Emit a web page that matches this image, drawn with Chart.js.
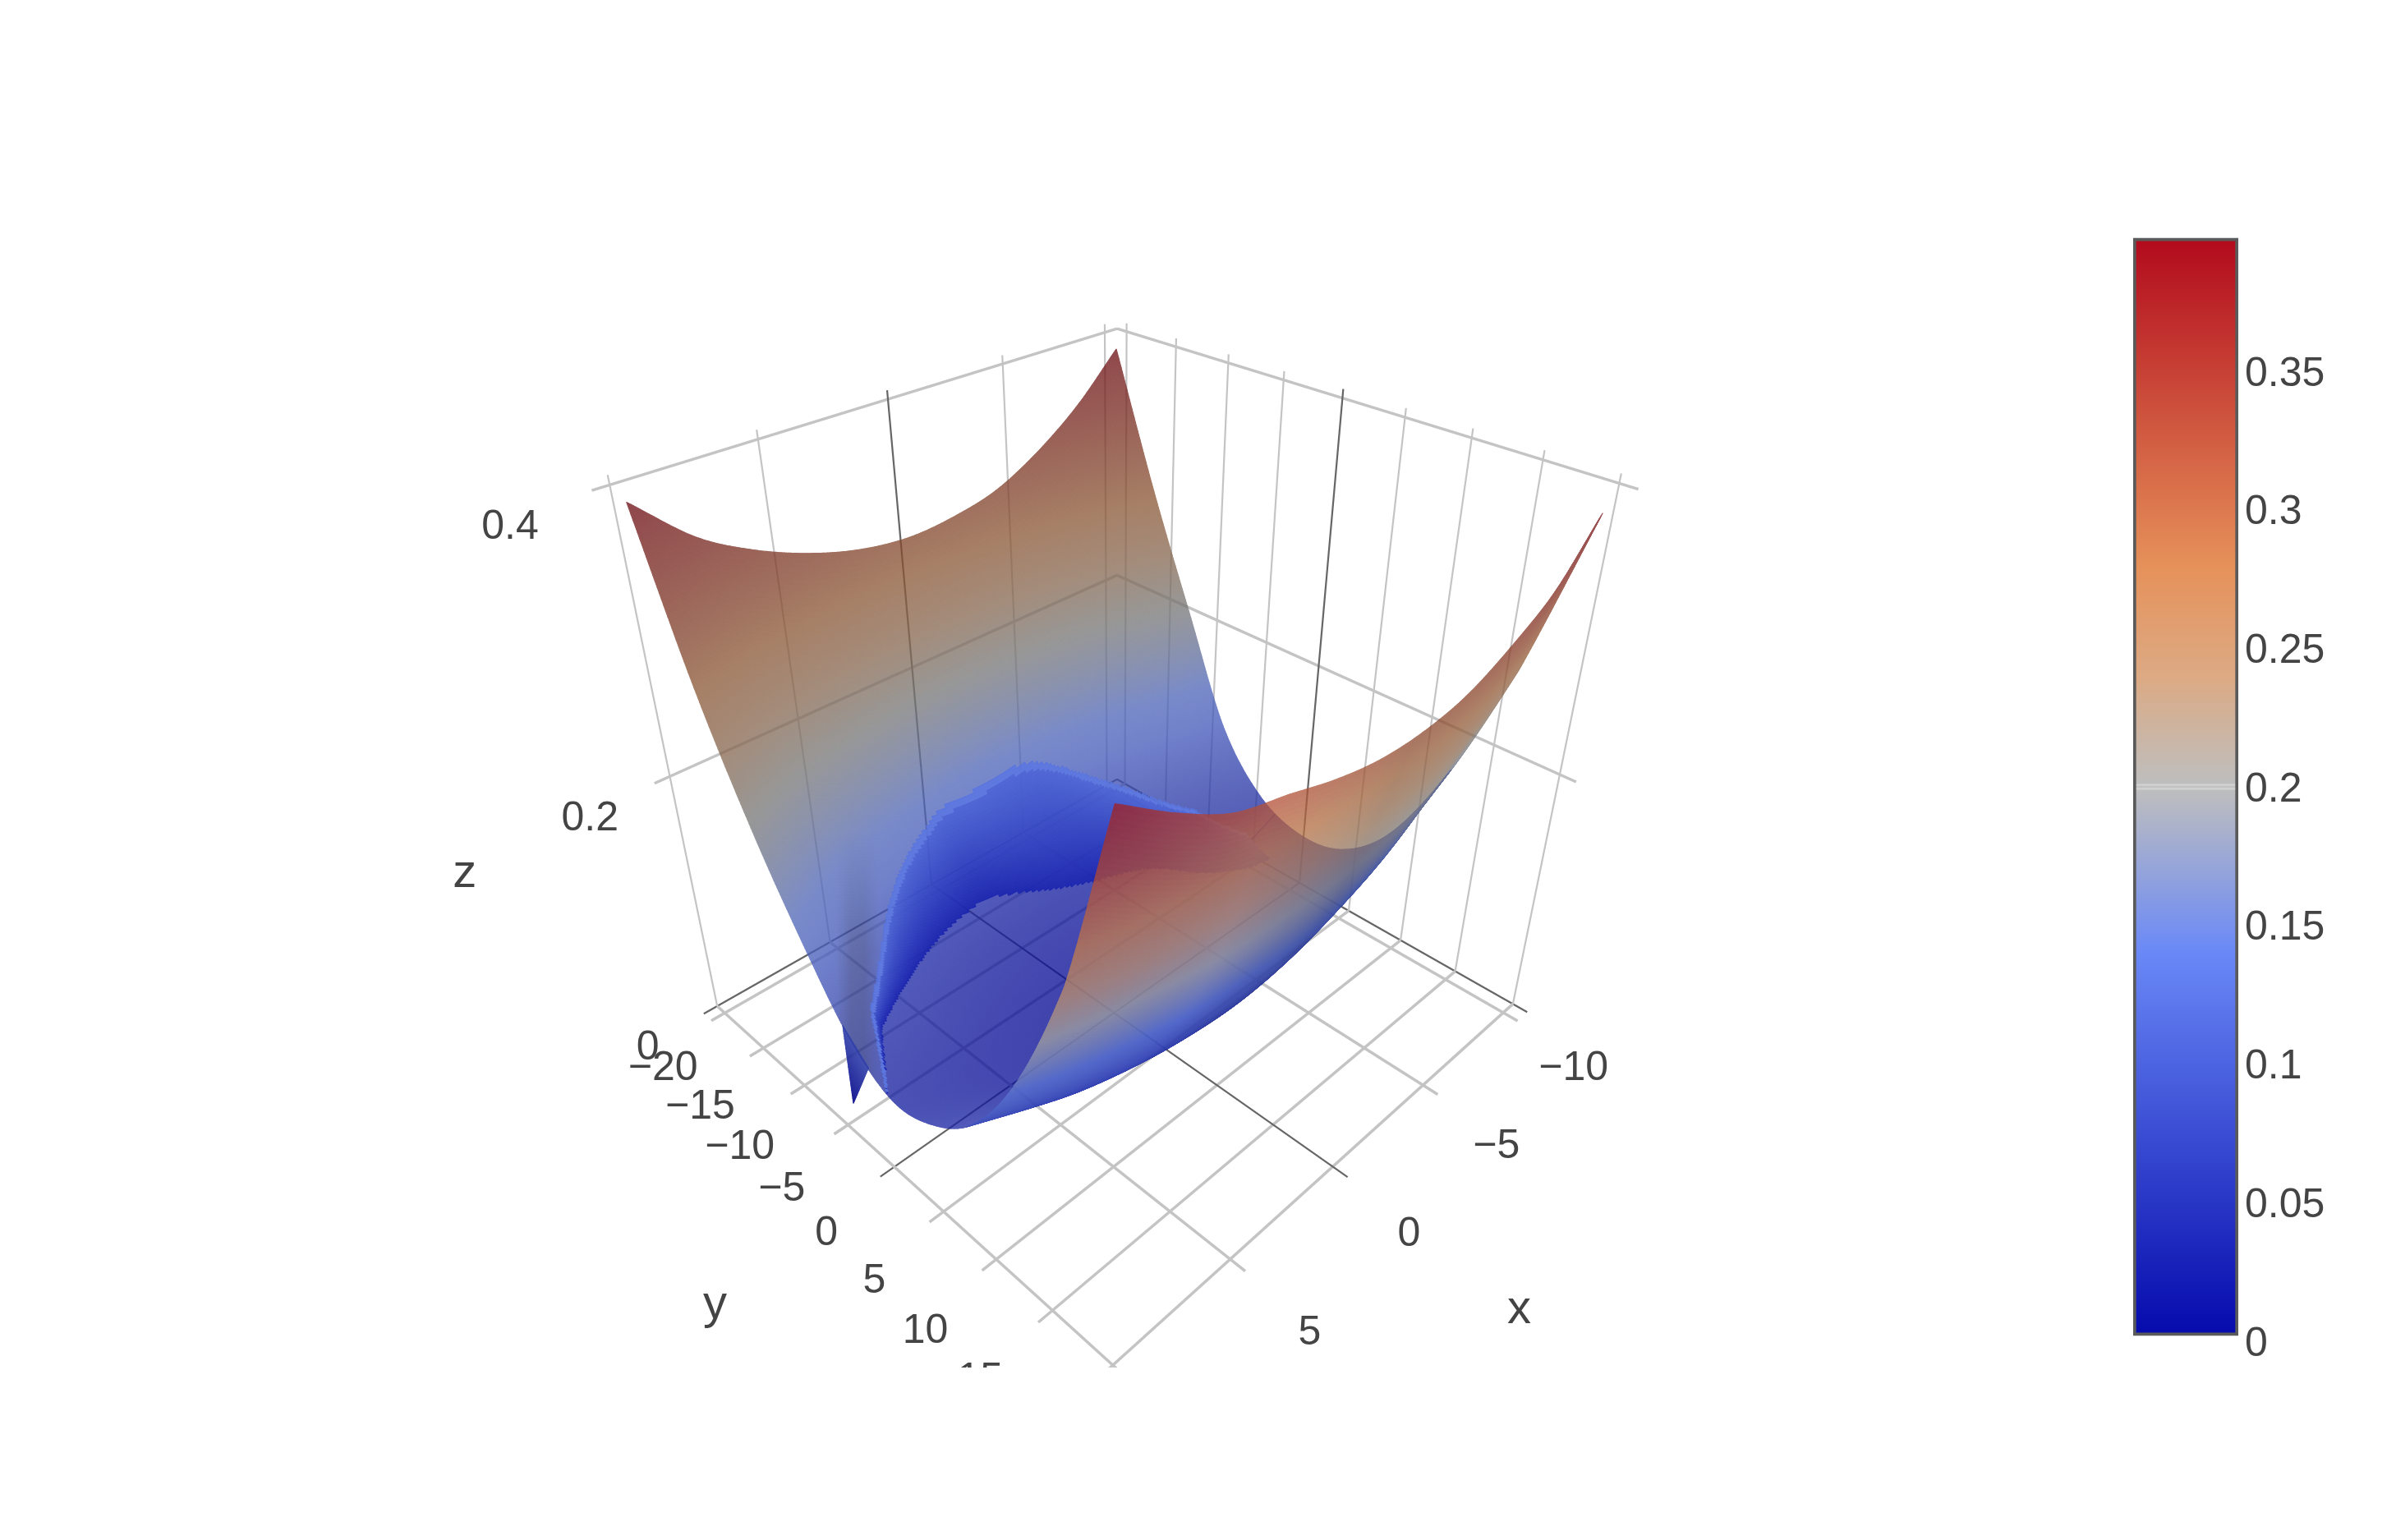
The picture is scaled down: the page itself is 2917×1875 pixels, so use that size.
<!DOCTYPE html>
<html>
<head>
<meta charset="utf-8">
<title>Surface</title>
<script src="https://cdn.jsdelivr.net/npm/chart.js@4/dist/chart.umd.min.js"></script>
<style>
  html, body { margin: 0; background: #fff; }
  #scene { position: absolute; left: 0; top: 0; }
  #bar { position: absolute; left: 2590px; top: 240px; }
</style>
</head>
<body>
<canvas id="scene" width="2917" height="1665"></canvas>
<canvas id="bar" width="327" height="1460"></canvas>
<script>
// Surface values: rows follow yGrid, columns follow xGrid.
const xGrid = [-10.6, -8.6, -6.6, -4.5, -2.5, -0.5, 1.5, 3.5, 5.6, 7.6, 9.6];
const yGrid = [-21, -16.9, -12.8, -8.7, -4.6, -0.5, 3.6, 7.7, 11.8, 15.9, 19.4];
const zGrid = [
  [0.385, 0.353, 0.329, 0.311, 0.303, 0.300, 0.304, 0.314, 0.330, 0.352, 0.387],
  [0.285, 0.253, 0.229, 0.211, 0.200, 0.195, 0.198, 0.207, 0.223, 0.245, 0.280],
  [0.195, 0.170, 0.146, 0.128, 0.117, 0.112, 0.115, 0.124, 0.140, 0.162, 0.197],
  [0.108, 0.092, 0.078, 0.065, 0.057, 0.052, 0.055, 0.064, 0.080, 0.100, 0.130],
  [0.063, 0.050, 0.036, 0.027, 0.021, 0.016, 0.019, 0.028, 0.042, 0.060, 0.075],
  [0.047, 0.030, 0.018, 0.011, 0.006, 0.003, 0.005, 0.012, 0.022, 0.035, 0.050],
  [0.053, 0.038, 0.026, 0.019, 0.014, 0.011, 0.013, 0.020, 0.030, 0.046, 0.060],
  [0.088, 0.070, 0.056, 0.046, 0.040, 0.037, 0.040, 0.047, 0.058, 0.074, 0.092],
  [0.160, 0.140, 0.120, 0.106, 0.096, 0.092, 0.095, 0.102, 0.115, 0.132, 0.155],
  [0.262, 0.238, 0.214, 0.196, 0.185, 0.180, 0.183, 0.190, 0.205, 0.225, 0.250],
  [0.380, 0.345, 0.325, 0.310, 0.304, 0.304, 0.310, 0.320, 0.330, 0.350, 0.375],
];
// The narrow sliver that drops to the floor at the x=10 side
const spikeX = [9.55, 9.55, 9.3];
const spikeY = [-5.4, -3, -6.3];
const spikeZ = [0.08, 0.06, 0.0];
// Saturated strip on the inner wall: upper and lower rim as y for each x
const bandX = [-9.2, -7.9, -5.2, -2.4, 0.7, 2.6, 5.3, 8.3, 9.6];
const bandTop = [-3.5, -7, -10.8, -13.6, -13.8, -13.3, -10.9, -5.8, -1];
const bandLow = [-1, -2.5, -6.2, -8, -9.6, -9.6, -8, -4.8, -1];
// Colour values across that strip, from upper rim to lower rim
const bandShades = [0.115, 0.095, 0.075, 0.055, 0.035];

const xTicks = [-10, -5, 0, 5, 10];
const yTicks = [-20, -15, -10, -5, 0, 5, 10, 15, 20];
const zTicks = [0, 0.2, 0.4];
const zLabelShift = [46, 53, 66];
const yLabelDrop = [37, 39, 41, 42.5, 44.5, 46, 48, 46];
const barTicks = [0, 0.05, 0.1, 0.15, 0.2, 0.25, 0.3, 0.35];
const barRange = [0.002, 0.398];

const scale = [
  [0, [5, 10, 172]], [0.35, [106, 137, 247]], [0.5, [190, 190, 190]],
  [0.6, [220, 170, 132]], [0.7, [230, 145, 90]], [1, [178, 10, 28]],
];
const Z_MIN = 0.002, Z_MAX = 0.398;

// Axis box of the scene
const X_RANGE = [-10.64, 9.96], Y_RANGE = [-21, 20], Z_TOP = 0.4;
const FONT = '"Liberation Sans", Arial, sans-serif';
const TEXT = "#444";

// Perspective camera, fitted on the corners of the axis box (1568 wide picture units)
const S = 2917 / 1568;
const CAM = [
  [-348.8, 75.2, -126, 731],
  [25.2, 25.07, -332, 510],
  [-0.1868, -0.1857, -0.1724, 1],
];

function project(x, y, z) {
  const p = [(x - X_RANGE[0]) / (X_RANGE[1] - X_RANGE[0]), (y - Y_RANGE[0]) / (Y_RANGE[1] - Y_RANGE[0]), z / Z_TOP, 1];
  const row = (r) => r[0] * p[0] + r[1] * p[1] + r[2] * p[2] + r[3];
  const w = row(CAM[2]);
  return { x: S * row(CAM[0]) / w, y: S * row(CAM[1]) / w };
}

function colorAt(z, shade) {
  const t = Math.max(0, Math.min(1, (z - Z_MIN) / (Z_MAX - Z_MIN)));
  let i = 0;
  while (i < scale.length - 2 && t > scale[i + 1][0]) i++;
  const [p0, c0] = scale[i];
  const [p1, c1] = scale[i + 1];
  const k = (t - p0) / (p1 - p0);
  const c = c0.map((v, n) => Math.round((v + (c1[n] - v) * k) * shade));
  return `rgb(${c[0]},${c[1]},${c[2]})`;
}

// Smooth curve through a row of read values, same idea as a line tension
function curve(v, t) {
  const i = Math.min(v.length - 2, Math.floor(t));
  const f = t - i;
  const p1 = v[i], p2 = v[i + 1];
  const p0 = i > 0 ? v[i - 1] : 2 * p1 - p2;
  const p3 = i < v.length - 2 ? v[i + 2] : 2 * p2 - p1;
  return 0.5 * (2 * p1 + (p2 - p0) * f + (2 * p0 - 5 * p1 + 4 * p2 - p3) * f * f + (3 * p1 - p0 - 3 * p2 + p3) * f * f * f);
}

function lerpIndex(v, t) {
  const i = Math.min(v.length - 2, Math.floor(t));
  return v[i] + (v[i + 1] - v[i]) * (t - i);
}

function edgeAt(xs, ys, x) {
  if (x <= xs[0] || x >= xs[xs.length - 1]) return null;
  let i = 0;
  while (x > xs[i + 1]) i++;
  return curve(ys, i + (x - xs[i]) / (xs[i + 1] - xs[i]));
}

function farShade(z, u, v) {
  let s;
  if (z > 0.3) s = 0.6;
  else if (z > 0.2) s = 0.6 + (0.3 - z) * 0.3;
  else s = Math.min(0.8, 0.63 + (0.2 - z) * 2);
  // darker vertical stripe above the sliver
  if (u > 1018 && u < 1070 && v > 1010) {
    const side = Math.min(1, Math.min(u - 1018, 1070 - u) / 18);
    s *= 1 - 0.2 * side * Math.min(1, (v - 1010) / 140);
  }
  return s;
}

function nearShade(x) {
  return 0.65 + 0.2 * Math.max(0, Math.min(1, (x + 2) / 6));
}

function makeLayer() {
  const c = document.createElement("canvas");
  c.width = 2917;
  c.height = 1665;
  const g = c.getContext("2d");
  g.lineWidth = 1.2;
  g.lineJoin = "round";
  return { c, g };
}

function fillQuad(g, pts, color) {
  g.fillStyle = color;
  g.strokeStyle = color;
  g.beginPath();
  pts.forEach((p, i) => (i ? g.lineTo(p.x, p.y) : g.moveTo(p.x, p.y)));
  g.closePath();
  g.fill();
  g.stroke();
}

function paintSurface(chart) {
  const { ctx, scales } = chart;
  const toPixel = (p) => ({ x: scales.x.getPixelForValue(p.x), y: scales.y.getPixelForValue(p.y) });
  const STEPS = 320;
  const rows = yGrid.length - 1, cols = xGrid.length - 1;

  const zs = [], pts = [], xs = [], ys = [];
  for (let i = 0; i <= STEPS; i++) xs.push(lerpIndex(xGrid, (i / STEPS) * cols));
  for (let j = 0; j <= STEPS; j++) {
    const tj = (j / STEPS) * rows;
    const column = zGrid[0].map((_, c) => curve(zGrid.map((r) => r[c]), tj));
    ys.push(lerpIndex(yGrid, tj));
    zs.push([]);
    pts.push([]);
    for (let i = 0; i <= STEPS; i++) {
      const z = curve(column, (i / STEPS) * cols);
      zs[j].push(z);
      pts[j].push(toPixel(project(xs[i], ys[j], z)));
    }
  }

  const pale = makeLayer(), band = makeLayer(), floor = makeLayer(), near = makeLayer();
  for (let j = 0; j < STEPS; j++) {
    for (let i = 0; i < STEPS; i++) {
      const q = [pts[j][i], pts[j][i + 1], pts[j + 1][i + 1], pts[j + 1][i]];
      const z = (zs[j][i] + zs[j][i + 1] + zs[j + 1][i + 1] + zs[j + 1][i]) / 4;
      const x = xs[i], y = ys[j];
      // the sign tells which side of the sheet faces the camera
      const dax = q[1].x - q[0].x, day = q[1].y - q[0].y;
      const dbx = q[3].x - q[0].x, dby = q[3].y - q[0].y;
      if (dax * dby - day * dbx > 0) {
        fillQuad(near.g, q, colorAt(z, nearShade(x)));
        continue;
      }
      const top = edgeAt(bandX, bandTop, x);
      const low = edgeAt(bandX, bandLow, x);
      if (top === null || y < top) {
        if (top === null && y > -3) fillQuad(floor.g, q, colorAt(z * 0.6, 0.85));
        else fillQuad(pale.g, q, colorAt(z, farShade(z, q[0].x, q[0].y)));
      } else if (y < low) {
        const rim = y < top + 0.3;
        const across = Math.max(0, Math.min(1, (y - top) / (low - top)));
        fillQuad(band.g, q, colorAt(rim ? 0.13 : lerpIndex(bandShades, across * (bandShades.length - 1)), 0.92));
      } else {
        fillQuad(floor.g, q, colorAt(z * 0.6, 0.85));
      }
    }
  }

  ctx.save();
  ctx.globalAlpha = 0.76;
  ctx.drawImage(pale.c, 0, 0);
  ctx.drawImage(floor.c, 0, 0);
  ctx.globalAlpha = 0.97;
  ctx.drawImage(band.c, 0, 0);

  const spike = makeLayer();
  const tip = toPixel(project(spikeX[2], spikeY[2], spikeZ[2]));
  const a = toPixel(project(spikeX[0], spikeY[0], spikeZ[0]));
  const b = toPixel(project(spikeX[1], spikeY[1], spikeZ[1]));
  for (let n = 0; n < 30; n++) {
    const t0 = n / 30, t1 = (n + 1) / 30;
    const at = (p, t) => ({ x: tip.x + (p.x - tip.x) * t, y: tip.y + (p.y - tip.y) * t });
    fillQuad(spike.g, [at(a, t0), at(a, t1), at(b, t1), at(b, t0)], colorAt(spikeZ[2] + (spikeZ[0] - spikeZ[2]) * t0, 0.8));
  }
  ctx.globalAlpha = 0.9;
  ctx.drawImage(spike.c, 0, 0);

  ctx.globalAlpha = 0.76;
  ctx.drawImage(near.c, 0, 0);
  ctx.restore();
}

function drawText(ctx, text, x, y, size) {
  ctx.font = `${size}px ${FONT}`;
  ctx.fillText(text, x, y);
}

function tickText(v) {
  return v < 0 ? "\u2212" + Math.abs(v) : String(v);
}

const surfacePlugin = {
  id: "surface",
  afterDatasetsDraw(chart) {
    paintSurface(chart);
    const ctx = chart.ctx;
    ctx.save();
    ctx.fillStyle = TEXT;
    ctx.textAlign = "center";
    ctx.textBaseline = "middle";
    xTicks.slice(0, 4).forEach((v) => {
      const p = project(v, Y_RANGE[1], 0);
      drawText(ctx, tickText(v), p.x + S * (46 + (v + 10) * 0.4), p.y + S * (36.5 + (v + 10) * 0.8), 50);
    });
    yTicks.slice(0, 8).forEach((v, i) => {
      const p = project(X_RANGE[1], v, 0);
      drawText(ctx, tickText(v), p.x - S * (41 + (v + 20) * 0.2), p.y + S * yLabelDrop[i], 50);
    });
    zTicks.forEach((v, i) => {
      const p = project(X_RANGE[1], Y_RANGE[0], v);
      drawText(ctx, String(v), p.x - S * zLabelShift[i], p.y + S * 28, 50);
    });
    const xp = project(0, Y_RANGE[1], 0), yp = project(X_RANGE[1], 0, 0), zp = project(X_RANGE[1], Y_RANGE[0], 0.2);
    drawText(ctx, "x", xp.x + S * 122, xp.y + S * 94, 58);
    drawText(ctx, "y", yp.x - S * 118, yp.y + S * 91, 58);
    drawText(ctx, "z", zp.x - S * 135, zp.y + S * 64, 58);
    ctx.restore();
  },
};

// Grid and zero lines of the box, as plain line datasets
function gridLine(a, b, zero, width) {
  return {
    data: [project(a[0], a[1], a[2]), project(b[0], b[1], b[2])],
    showLine: true,
    pointRadius: 0,
    borderColor: zero ? "#666" : "#c4c4c4",
    borderWidth: zero ? 2.2 : width,
  };
}

function buildGrid() {
  const out = [];
  const [x0, x1] = X_RANGE, [y0, y1] = Y_RANGE;
  const xOut = x1 + 0.6, yOut = y1 + 1.2;
  xTicks.forEach((v) => {
    out.push(gridLine([v, y0, 0], [v, yOut, 0], v === 0, 3.5));
    out.push(gridLine([v, y0, 0], [v, y0, Z_TOP + 0.006], v === 0, 2.2));
  });
  yTicks.forEach((v) => {
    out.push(gridLine([x0, v, 0], [xOut, v, 0], v === 0, 3.5));
    out.push(gridLine([x0, v, 0], [x0, v, Z_TOP + 0.006], v === 0, 2.2));
  });
  zTicks.forEach((v) => {
    out.push(gridLine([xOut, y0, v], [x0, y0, v], v === 0, 3.5));
    out.push(gridLine([x0, y0, v], [x0, yOut, v], v === 0, 3.5));
  });
  return out;
}

new Chart(document.getElementById("scene"), {
  type: "scatter",
  data: { datasets: buildGrid() },
  options: {
    responsive: false,
    devicePixelRatio: 1,
    animation: false,
    layout: { padding: 0 },
    events: [],
    scales: {
      x: { type: "linear", min: 0, max: 2917, display: false },
      y: { type: "linear", min: 0, max: 1665, reverse: true, display: false },
    },
    plugins: { legend: { display: false }, tooltip: { enabled: false } },
  },
  plugins: [surfacePlugin],
});

// Color bar: one floating bar with the color scale, next to a real value axis
function barGradient(context) {
  const { chart } = context;
  if (!chart.chartArea) return "#888";
  const y = chart.scales.y;
  const g = chart.ctx.createLinearGradient(0, y.getPixelForValue(barRange[0]), 0, y.getPixelForValue(barRange[1]));
  scale.forEach(([p, c]) => g.addColorStop(p, `rgb(${c[0]},${c[1]},${c[2]})`));
  g.addColorStop(0.497, "rgb(190,190,190)");
  g.addColorStop(0.498, "rgb(214,214,214)");
  g.addColorStop(0.502, "rgb(214,214,214)");
  g.addColorStop(0.503, "rgb(190,190,190)");
  return g;
}

new Chart(document.getElementById("bar"), {
  type: "bar",
  data: {
    labels: [""],
    datasets: [{
      data: [barRange],
      backgroundColor: barGradient,
      borderColor: "#5a5a5a",
      borderWidth: 4,
      borderSkipped: false,
      barPercentage: 1,
      categoryPercentage: 1,
    }],
  },
  options: {
    responsive: false,
    devicePixelRatio: 1,
    animation: false,
    events: [],
    layout: { padding: { left: 7, right: 0, top: 43.2, bottom: 67.2 } },
    scales: {
      x: { display: false },
      y: {
        position: "right",
        min: 0,
        max: 0.4,
        grid: { display: false, drawTicks: false },
        border: { display: false },
        afterBuildTicks(axis) { axis.ticks = barTicks.map((value) => ({ value })); },
        afterFit(axis) { axis.width = 192; },
        ticks: {
          padding: 8,
          labelOffset: 4,
          color: TEXT,
          autoSkip: false,
          font: { family: FONT, size: 50 },
          callback: (v) => String(v),
        },
      },
    },
    plugins: { legend: { display: false }, tooltip: { enabled: false } },
  },
});
</script>
</body>
</html>
